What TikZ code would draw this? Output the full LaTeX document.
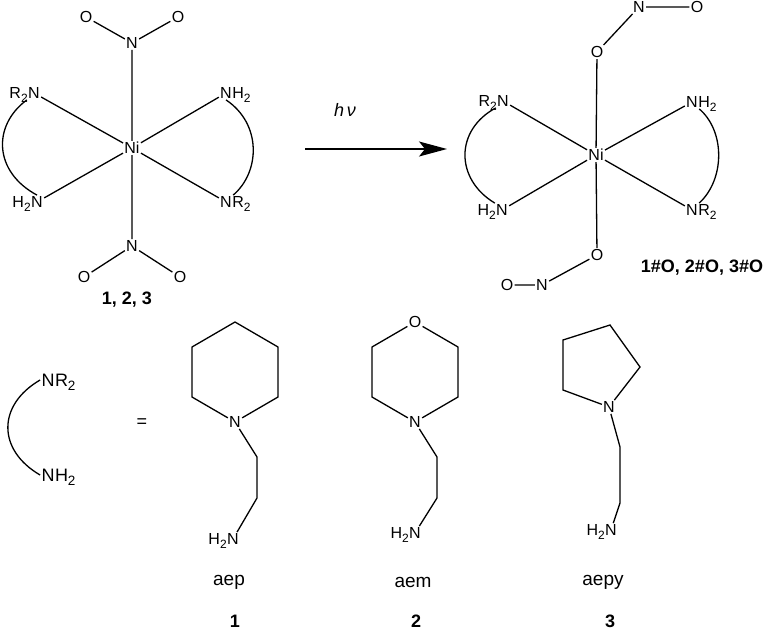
\documentclass[tikz,border=0pt]{standalone}
\usepackage{fontspec}
\setmainfont{Liberation Sans}
\usepackage{graphicx}
\usetikzlibrary{arrows.meta}
\newcommand{\chsub}[1]{\raisebox{-0.22em}{\scalebox{0.75}{#1}}}
\tikzset{
	atom/.style={inner sep=1.2pt,font=\fontsize{16}{19}\selectfont},
	bigatom/.style={inner sep=1.2pt,font=\fontsize{18}{21}\selectfont},
	pre/.style={inner sep=0pt,anchor=base east,xshift=1.1pt},
	post/.style={inner sep=0pt,anchor=base west,xshift=-1.1pt},
	bond/.style={line width=1.3pt},
	cmpd/.style={inner sep=0pt,font=\fontsize{18}{21}\selectfont\bfseries},
	ligname/.style={inner sep=0pt,font=\fontsize{19}{22}\selectfont},
}
\begin{document}
\begin{tikzpicture}[x=1pt,y=-1pt,>={Stealth[length=28pt,width=15pt,inset=6pt]}]
	\useasboundingbox (0,0) rectangle (770,632);
	% starting complex
	\node[atom] (ni1) at (132,148) {Ni};
	\node[atom] (n1t) at (132,43) {N};
	\node[atom] (o1a) at (86,17) {O};
	\node[atom] (o1b) at (178,17) {O};
	\node[atom] (n1b) at (132,246) {N};
	\node[atom] (o1c) at (84,277) {O};
	\node[atom] (o1d) at (180,277) {O};
	\node[atom] (r2n1) at (34,93) {N};
	\node[atom,pre] at (r2n1.base west) {R\chsub{2}};
	\node[atom] (nh1) at (226,93) {N};
	\node[atom,post] at (nh1.base east) {H\chsub{2}};
	\node[atom] (h2n1) at (37,202) {N};
	\node[atom,pre] at (h2n1.base west) {H\chsub{2}};
	\node[atom] (nr1) at (226,202) {N};
	\node[atom,post] at (nr1.base east) {R\chsub{2}};
	\draw[bond] (ni1)--(n1t) (n1t)--(o1a) (n1t)--(o1b);
	\draw[bond] (ni1)--(n1b) (n1b)--(o1c) (n1b)--(o1d);
	\draw[bond] (ni1)--(r2n1) (ni1)--(nh1) (ni1)--(h2n1) (ni1)--(nr1);
	\draw[bond] (r2n1.south west) .. controls +(-35,26) and +(-43,-23) .. (h2n1.north);
	\draw[bond] (nh1.south) .. controls +(36,24) and +(27,-23) .. (nr1.north east);
	\node[cmpd] (c123) at (127,300) {1, 2, 3};
	% light
	\coordinate (arrs) at (305,149);
	\coordinate (arre) at (447,149);
	\draw[line width=1.3pt,->] (arrs)--(arre);
	\node[inner sep=0pt,font=\fontsize{18}{21}\selectfont\itshape] (hv) at (345,110) {h\,ν};
	% nitrito complex
	\node[atom] (ni2) at (596,155) {Ni};
	\node[atom] (o2t) at (597,52) {O};
	\node[atom] (n2t) at (639,7) {N};
	\node[atom] (o2tt) at (697,7) {O};
	\node[atom] (o2b) at (597,255) {O};
	\node[atom] (n2b) at (542,285) {N};
	\node[atom] (o2bb) at (507,285) {O};
	\node[atom] (r2n2) at (503,101) {N};
	\node[atom,pre] at (r2n2.base west) {R\chsub{2}};
	\node[atom] (nh2) at (692,102) {N};
	\node[atom,post] at (nh2.base east) {H\chsub{2}};
	\node[atom] (h2n2) at (502,210) {N};
	\node[atom,pre] at (h2n2.base west) {H\chsub{2}};
	\node[atom] (nr2) at (692,210) {N};
	\node[atom,post] at (nr2.base east) {R\chsub{2}};
	\draw[bond] (ni2)--(o2t) (o2t)--(n2t) (n2t)--(o2tt);
	\draw[bond] (ni2)--(o2b) (o2b)--(n2b) (n2b)--(o2bb);
	\draw[bond] (ni2)--(r2n2) (ni2)--(nh2) (ni2)--(h2n2) (ni2)--(nr2);
	\draw[bond] (r2n2.south west) .. controls +(-41,22) and +(-40,-24) .. (h2n2.north west);
	\draw[bond] (nh2.south east) .. controls +(26,22) and +(26,-24) .. (nr2.north east);
	\node[cmpd] (c123o) at (702,268) {1\#O, 2\#O, 3\#O};
	% ligand
	\node[bigatom] (nr3) at (48,380) {N};
	\node[bigatom,post] at (nr3.base east) {R\chsub{2}};
	\node[bigatom] (nh3) at (48,475) {N};
	\node[bigatom,post] at (nh3.base east) {H\chsub{2}};
	\draw[bond] (nr3.west) .. controls +(-43,25) and +(-43,-25) .. (nh3.west);
	\node[bigatom] (eq) at (142,423) {=};
	% aep
	\node[atom] (pn) at (235,422) {N};
	\coordinate (p1) at (278,397);
	\coordinate (p2) at (278,347);
	\coordinate (p3) at (235,322);
	\coordinate (p4) at (192,347);
	\coordinate (p5) at (192,397);
	\draw[bond] (pn)--(p1)--(p2)--(p3)--(p4)--(p5)--(pn);
	\coordinate (pc1) at (257,457);
	\coordinate (pc2) at (257,498);
	\node[atom] (pnh) at (233,539) {N};
	\node[atom,pre] at (pnh.base west) {H\chsub{2}};
	\draw[bond] (pn)--(pc1)--(pc2)--(pnh);
	\node[ligname] (aep) at (229,582) {aep};
	\node[cmpd] (c1) at (235,621) {1};
	% aem
	\node[atom] (mn) at (415,422) {N};
	\node[atom] (mo) at (415,322) {O};
	\coordinate (m1) at (458,397);
	\coordinate (m2) at (458,347);
	\coordinate (m4) at (372,347);
	\coordinate (m5) at (372,397);
	\draw[bond] (mn)--(m1)--(m2)--(mo)--(m4)--(m5)--(mn);
	\coordinate (mc1) at (437,457);
	\coordinate (mc2) at (437,498);
	\node[atom] (mnh) at (415,533) {N};
	\node[atom,pre] at (mnh.base west) {H\chsub{2}};
	\draw[bond] (mn)--(mc1)--(mc2)--(mnh);
	\node[ligname] (aem) at (413,582) {aem};
	\node[cmpd] (c2) at (416,621) {2};
	% aepy
	\node[atom] (yn) at (609,407) {N};
	\coordinate (y1) at (640,367);
	\coordinate (y2) at (610,325);
	\coordinate (y3) at (563,340);
	\coordinate (y4) at (563,390);
	\draw[bond] (yn)--(y1)--(y2)--(y3)--(y4)--(yn);
	\coordinate (yc1) at (620,447);
	\coordinate (yc2) at (620,503);
	\node[atom] (ynh) at (611,530) {N};
	\node[atom,pre] at (ynh.base west) {H\chsub{2}};
	\draw[bond] (yn)--(yc1)--(yc2)--(ynh);
	\node[ligname] (aepy) at (603,582) {aepy};
	\node[cmpd] (c3) at (610,621) {3};
\end{tikzpicture}
\end{document}
